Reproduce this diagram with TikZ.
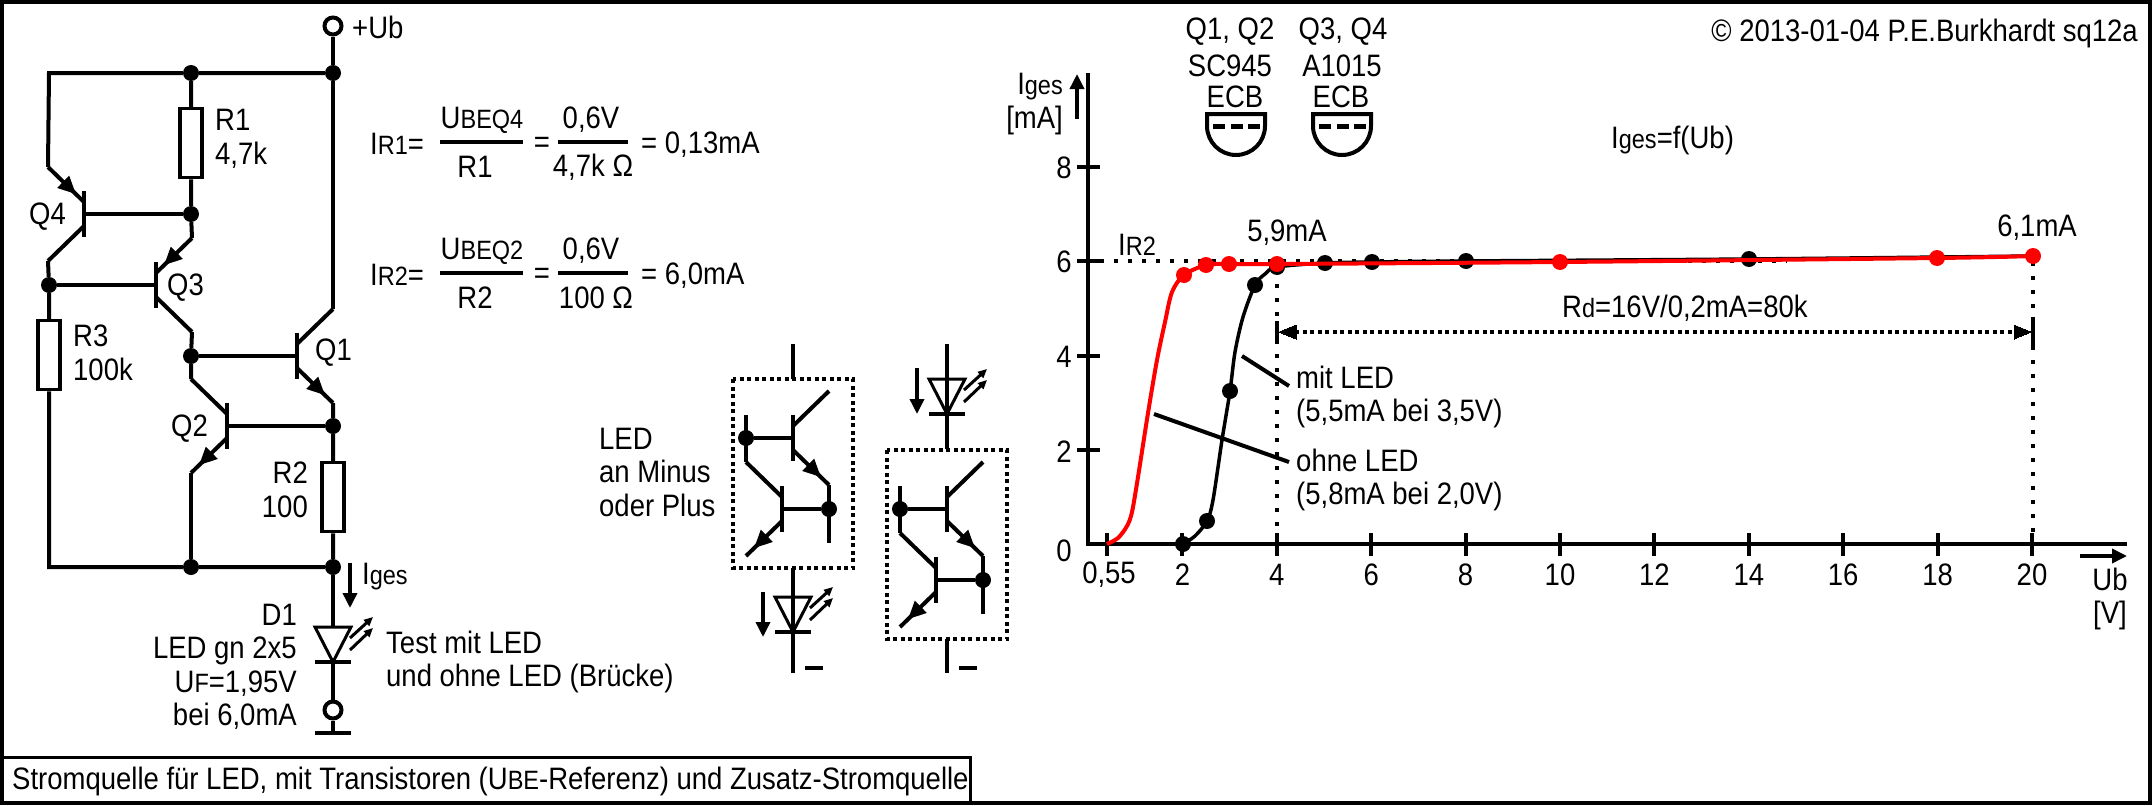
\documentclass[tikz,border=0pt]{standalone}
\usepackage{fontspec}
\setmainfont[FakeStretch=0.887]{Liberation Sans}
\usetikzlibrary{arrows.meta,decorations.markings}

\newcommand{\lbl}{\fontsize{31}{33.5}\selectfont}
\newcommand{\sm}[1]{{\fontsize{26.5}{26.5}\selectfont #1}}

\tikzset{
    wire/.style={line width=4pt},
    thin wire/.style={line width=3pt},
    every node/.style={font=\lbl, inner sep=0pt, align=left},
    dot/.style={circle, fill=black, minimum size=16pt},
    reddot/.style={circle, fill=red, minimum size=16pt},
    term/.style={circle, draw, fill=white, line width=4pt, minimum size=17pt},
    res/.style={rectangle, draw, fill=white, line width=3.5pt, minimum width=22pt, minimum height=69pt},
    tip/.style={-{Triangle[length=15pt,width=14pt]}},
    emit/.style={postaction={decorate}, decoration={markings, mark=at position 0.78 with {\arrow{Triangle[length=18pt,width=16pt]}}}},
    box/.style={line width=4pt, dash pattern=on 4pt off 3.5pt},
    sparse/.style={line width=4pt, dash pattern=on 4pt off 10pt},
    dim/.style={line width=4pt, dash pattern=on 4pt off 3.5pt}
}

% bar, both leads; #5 and #6 are the styles of upper and lower lead
\newcommand{\bjt}[6]{
    \coordinate (#1) at (#2,#3);
    \coordinate (#1u) at ({#2+36*#4},{#3-47});
    \coordinate (#1l) at ({#2+36*#4},{#3+47});
    \draw[wire] (#2,{#3-23}) -- (#2,{#3+23});
    \draw[wire,#5] (#1u) -- (#2,{#3-12});
    \draw[wire,#6] (#2,{#3+12}) -- (#1l);
}
% LED pointing down with its two rays
\newcommand{\ledsym}[3]{
    \coordinate (#1) at (#2,#3);
    \draw[thin wire, line join=miter] (#2-18,#3) -- (#2+18,#3) -- (#2,#3+35) -- cycle;
    \draw[wire] (#2-18,#3+35) -- (#2+18,#3+35);
    \draw[line width=3pt, -{Triangle[length=9pt,width=8pt]}] (#2+17,#3+11) -- (#2+40,#3-10);
    \draw[line width=3pt, -{Triangle[length=9pt,width=8pt]}] (#2+17,#3+23) -- (#2+40,#3+1);
}

\begin{document}
\begin{tikzpicture}[x=1pt, y=-1pt]
    \useasboundingbox (0,0) rectangle (2153,806);
    \draw[line width=4.5pt] (2,2) rectangle (2150,803);
    \draw[thin wire] (2,757) rectangle (970,803);
    \node[anchor=west] (caption) at (12,781) {Stromquelle für LED, mit Transistoren (U\sm{BE}-Referenz) und Zusatz-Stromquelle};
    \node[anchor=east] (copy) at (2138,33) {© 2013-01-04 P.E.Burkhardt sq12a};

    % circuit
    \node[term] (ub) at (333,26) {};
    \node[anchor=west] (ublabel) at (352,27) {+Ub};
    \node[dot] (ntop) at (333,73) {};
    \node[dot] (nr1) at (191,73) {};
    \node[dot] (nb4) at (191,214) {};
    \node[dot] (nb3) at (49,285) {};
    \node[dot] (nc3) at (191,356) {};
    \node[dot] (ne1) at (333,426) {};
    \node[dot] (ngl) at (191,567) {};
    \node[dot] (ngr) at (333,567) {};
    \node[res] (r1) at (191,143) {};
    \node[res] (r3) at (49,355) {};
    \node[res] (r2) at (333,497) {};
    \bjt{q4}{84}{214}{-1}{emit}{}
    \bjt{q3}{156}{285}{1}{emit}{}
    \bjt{q1}{297}{356}{1}{}{emit}
    \bjt{q2}{227}{426}{-1}{}{emit}
    \coordinate (ngndl) at (49,567);
    \coordinate (ngnd) at (333,733);
    \draw[wire] (ub) -- (ntop) -- (q1u);
    \draw[wire] (q1l) -- (ne1) -- (r2) -- (ngr) -- (ngl) -- (ngndl) -- (r3) -- (nb3) -- (q4l);
    \draw[wire] (q4u) -- (49,73) -- (nr1) -- (ntop);
    \draw[wire] (nr1) -- (r1) -- (nb4) -- (q3u);
    \draw[wire] (q4) -- (nb4);
    \draw[wire] (nb3) -- (q3);
    \draw[wire] (q3l) -- (nc3) -- (q2u);
    \draw[wire] (nc3) -- (q1);
    \draw[wire] (q2) -- (ne1);
    \draw[wire] (q2l) -- (ngl);
    \ledsym{d1}{333}{627}
    \node[term] (gnd) at (333,710) {};
    \draw[wire] (ngr) -- (d1) (gnd.north) -- (333,662);
    \draw[wire] (gnd) -- (ngnd);
    \draw[wire] (315,733) -- (351,733);
    \draw[line width=3.5pt, tip] (350,563) -- (350,608);

    \node[anchor=west] (r1label) at (215,139) {R1\\4,7k};
    \node[anchor=west] (r3label) at (73,353) {R3\\100k};
    \node[anchor=east, align=right] (r2label) at (308,490) {R2\\100};
    \node[anchor=east] (q4label) at (66,217) {Q4};
    \node[anchor=west] (q3label) at (167,288) {Q3};
    \node[anchor=west] (q1label) at (315,353) {Q1};
    \node[anchor=east] (q2label) at (208,429) {Q2};
    \node[anchor=west] (igeslabel) at (362,577) {I\sm{ges}};
    \node[anchor=east, align=right] (d1label) at (297,667) {D1\\LED gn 2x5\\U\sm{F}=1,95V\\bei 6,0mA};
    \node[anchor=west] (testlabel) at (386,662) {Test mit LED\\und ohne LED (Brücke)};

    % formulas
    \foreach \yy/\rr/\qq/\dn/\res/\rx in {142/1/4/4{,}7k/0{,}13mA/593, 273/2/2/100/6{,}0mA/596} {
        \draw[wire] (440,\yy) -- (523,\yy);
        \draw[wire] (558,\yy) -- (628,\yy);
        \node[anchor=west] (ir\rr) at (370,\yy+2) {I\sm{R\rr}=};
        \node (ub\rr) at (482,\yy-22) {U\sm{BEQ\qq}};
        \node (dr\rr) at (475,\yy+25) {R\rr};
        \node (eq\rr) at (542,\yy+3) {=};
        \node (vv\rr) at (591,\yy-22) {0,6V};
        \node (oh\rr) at (\rx,\yy+25) {\dn\ Ω};
        \node[anchor=west] (rs\rr) at (641,\yy+3) {= \res};
    }

    % LED on the minus or plus side
    \node[anchor=west] (ledlabel) at (599,472) {LED\\an Minus\\oder Plus};
    \foreach \dx/\dy in {0/0, 154/71} {
        \begin{scope}[shift={(\dx,\dy)}]
            \draw[box] (733,379) rectangle (853,568);
            \bjt{ta}{793}{438}{1}{}{emit}
            \bjt{tb}{782}{509}{-1}{}{emit}
            \node[dot] (ja) at (746,438) {};
            \node[dot] (jb) at (829,509) {};
            \draw[wire] (ja) -- (ta);
            \draw[wire] (tb) -- (jb);
            \draw[wire] (746,415) -- (tbu);
            \draw[wire] (tal) -- (829,543);
        \end{scope}
    }
    \coordinate (cella) at (793,379);
    \coordinate (cellb) at (793,568);
    \coordinate (cellc) at (947,449);
    \coordinate (celld) at (947,639);
    \ledsym{d2}{793}{597}
    \ledsym{d3}{947}{379}
    \draw[wire] (793,344) -- (cella);
    \draw[wire] (cellb) -- (793,673);
    \draw[wire] (947,344) -- (cellc);
    \draw[wire] (celld) -- (947,673);
    \draw[line width=3.5pt, tip] (763,592) -- (763,637);
    \draw[line width=3.5pt, tip] (917,368) -- (917,414);
    \draw[line width=4pt] (805,668) -- (823,668);
    \draw[line width=4pt] (959,668) -- (977,668);

    % types
    \node (ta1) at (1230,32) {Q1, Q2};
    \node (ta2) at (1230,66) {SC945};
    \node (ta3) at (1235,97) {ECB};
    \node (tb1) at (1343,32) {Q3, Q4};
    \node (tb2) at (1342,66) {A1015};
    \node (tb3) at (1341,97) {ECB};
    \foreach \cx in {1236,1342} {
        \draw[wire] (\cx-29,114) -- (\cx-29,126) .. controls (\cx-29,142) and (\cx-16,155) .. (\cx,155)
            .. controls (\cx+16,155) and (\cx+29,142) .. (\cx+29,126) -- (\cx+29,114) -- cycle;
        \draw[line width=5pt, dash pattern=on 12pt off 5.5pt] (\cx-23,126) -- (\cx+24,126);
    }

    % chart
    \coordinate (origin) at (1088,544);
    \draw[wire] (1088,73) -- (origin) -- (2127,544);
    \foreach \v/\yy in {0/551, 2/452, 4/357, 6/262, 8/168} {
        \node (yl\v) at (1064,\yy) {\v};
    }
    \foreach \v in {2,4,6,8} {
        \draw[wire] (1077,{544-47.1*\v}) -- (1100,{544-47.1*\v});
    }
    \draw[wire] (1107,533) -- (1107,556);
    \node (xl0) at (1109,575) {0,55};
    \foreach \v in {2,4,...,20} {
        \draw[wire] ({1088+47.2*\v},533) -- ({1088+47.2*\v},556);
    }
    \foreach \v in {2,4,6,8,10,12,14,16,18,20} {
        \node (xl\v) at ({1088+47.2*\v},575) {\v};
    }
    \draw[line width=3.5pt, tip] (1077,119) -- (1077,74);
    \node[anchor=east, align=right] (yaxis) at (1063,104) {I\sm{ges}\\{[mA]}};
    \draw[line width=3.5pt, tip] (2080,556) -- (2127,556);
    \node[align=center] (xaxis) at (2110,599) {Ub\\{[V]}};
    \node[anchor=west] (fn) at (1611,140) {I\sm{ges}=f(Ub)};

    \draw[sparse] (1100,261) -- (1787,261);
    \draw[sparse] (1277,270) -- (1277,533);
    \draw[sparse] (2033,262) -- (2033,533);
    \draw[wire] (1277,321) -- (1277,343);
    \draw[wire] (2033,317) -- (2033,347);
    \coordinate (dl) at (1279,332);
    \coordinate (dr) at (2031,332);
    \draw[dim] (1295,332) -- (2015,332);
    \draw[line width=0pt, fill=black] (dl) -- (1296,325) -- (1296,339) -- cycle;
    \draw[line width=0pt, fill=black] (dr) -- (2014,325) -- (2014,339) -- cycle;
    \node (irtwo) at (1137,245) {I\sm{R2}};
    \node (ma59) at (1287,233) {5,9mA};
    \node (ma61) at (2037,228) {6,1mA};
    \node[anchor=west] (rd) at (1562,308) {R\sm{d}=16V/0,2mA=80k};

    % measured curves
    \draw[line width=3.5pt] plot[smooth, tension=0.5] coordinates {(1183,544) (1195,536) (1207,521) (1213,500) (1222,440) (1230,391) (1235,352) (1243,317) (1255,285) (1265,274) (1277,267) (1325,263) (1372,262) (1466,261) (1749,259) (2033,256)};
    \foreach \px/\py in {1183/544, 1207/521, 1230/391, 1255/285, 1277/267, 1325/263, 1372/262, 1466/261, 1749/259} {
        \node[dot] (b\px) at (\px,\py) {};
    }
    \draw[red, line width=4pt] plot[smooth, tension=0.5] coordinates {(1107,544) (1118,538) (1127,526) (1132,512) (1138,477) (1148,413) (1157,360) (1165,322) (1172,292) (1184,275) (1206,265) (1229,264) (1277,264) (1560,262) (1937,258) (2033,256)};
    \foreach \px/\py in {1184/275, 1206/265, 1229/264, 1277/264, 1560/262, 1937/258, 2033/256} {
        \node[reddot] (r\px) at (\px,\py) {};
    }

    % legend
    \node[anchor=west] (mitled) at (1296,397) {mit LED\\(5,5mA bei 3,5V)};
    \node[anchor=west] (ohneled) at (1296,480) {ohne LED\\(5,8mA bei 2,0V)};
    \coordinate (mitc) at (1242,356);
    \coordinate (ohnec) at (1154,414);
    \draw[wire] (mitc) -- (1289,386);
    \draw[wire] (ohnec) -- (1289,462);
\end{tikzpicture}
\end{document}
